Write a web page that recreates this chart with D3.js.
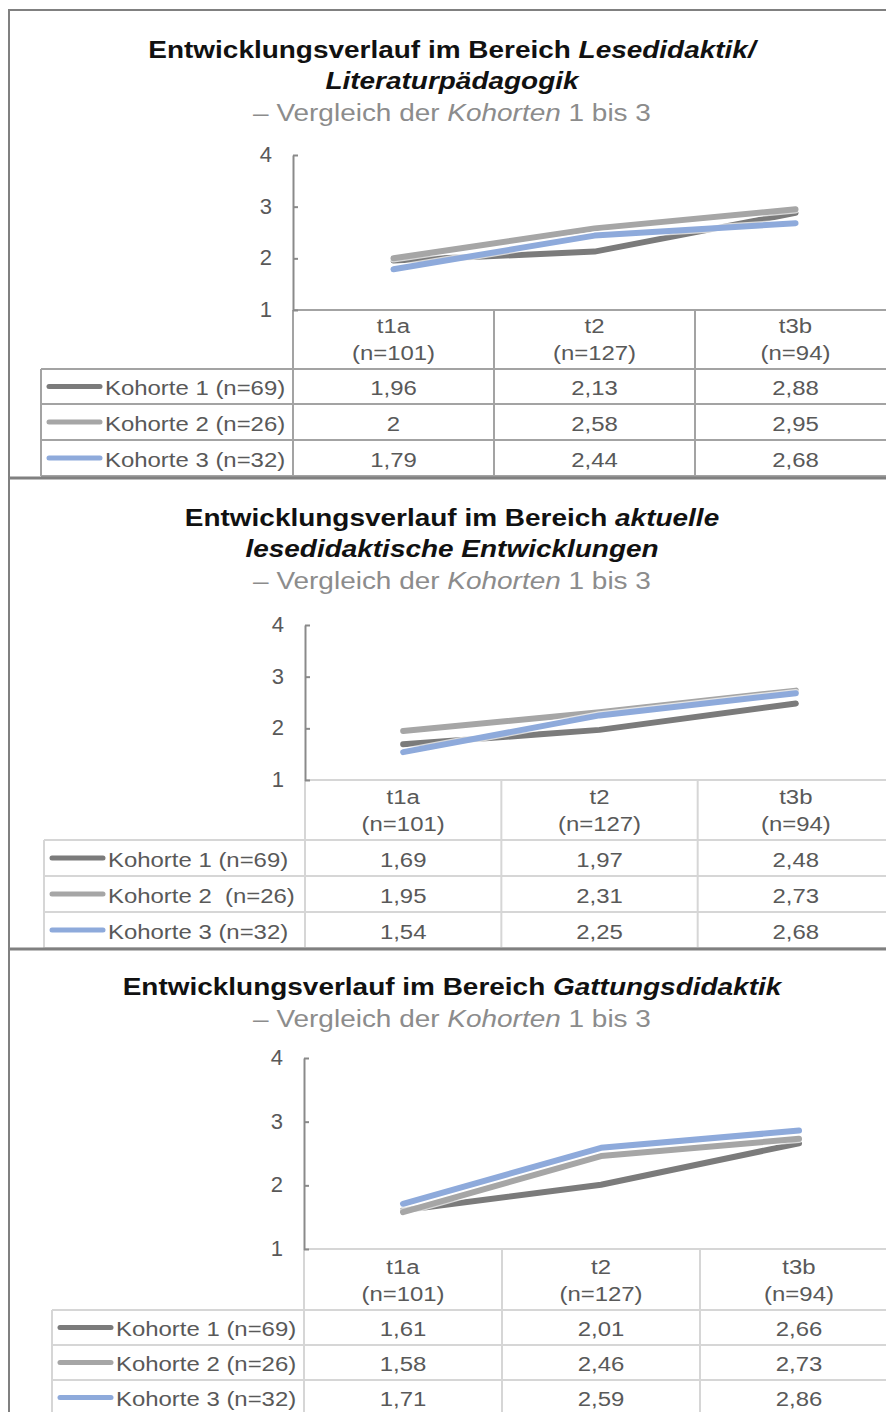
<!DOCTYPE html>
<html>
<head>
<meta charset="utf-8">
<script src="https://cdn.jsdelivr.net/npm/d3@7"></script>
<style>
  body { margin: 0; background: #fff; }
  svg { display: block; font-family: "Liberation Sans", Arial, sans-serif; }
</style>
</head>
<body>
<svg id="chart" width="886" height="1412"></svg>
<script>
// Measurement points and cohorts shared by all three panels
const periods = ["t1a", "t2", "t3b"];
const periodN = ["(n=101)", "(n=127)", "(n=94)"];
const cohortNames = ["Kohorte 1 (n=69)", "Kohorte 2 (n=26)", "Kohorte 3 (n=32)"];
const cohortNamesAktuell = ["Kohorte 1 (n=69)", "Kohorte 2  (n=26)", "Kohorte 3 (n=32)"];
const cohortColors = ["#7b7b7b", "#a6a6a6", "#8eaadb"];
const yTicks = [1, 2, 3, 4];

// Mean values per cohort (t1a, t2, t3b)
const leseK1 = [1.96, 2.13, 2.88];
const leseK2 = [2, 2.58, 2.95];
const leseK3 = [1.79, 2.44, 2.68];

const aktuellK1 = [1.69, 1.97, 2.48];
const aktuellK2 = [1.95, 2.31, 2.73];
const aktuellK3 = [1.54, 2.25, 2.68];

const gattungK1 = [1.61, 2.01, 2.66];
const gattungK2 = [1.58, 2.46, 2.73];
const gattungK3 = [1.71, 2.59, 2.86];

// Title pieces (i = italic)
const titleLese = [
  [{t: "Entwicklungsverlauf im Bereich "}, {t: "Lesedidaktik/", i: true}],
  [{t: "Literaturpädagogik", i: true}]
];
const titleAktuell = [
  [{t: "Entwicklungsverlauf im Bereich "}, {t: "aktuelle", i: true}],
  [{t: "lesedidaktische Entwicklungen", i: true}]
];
const titleGattung = [
  [{t: "Entwicklungsverlauf im Bereich "}, {t: "Gattungsdidaktik", i: true}]
];
const subtitle = [{t: "– Vergleich der "}, {t: "Kohorten", i: true}, {t: " 1 bis 3"}];

// Layout of each panel
const CX = 452;           // centre line of titles
const panels = [
  {
    title: titleLese, labels: cohortNames, series: [leseK1, leseK2, leseK3],
    titleY: [58, 89], subY: 121,
    axisX: 293, right: 896, y1: 310, y4: 155,
    tableLeft: 41, rows: [369, 404, 440, 476],
    grid: "#a3a3a3"
  },
  {
    title: titleAktuell, labels: cohortNamesAktuell, series: [aktuellK1, aktuellK2, aktuellK3],
    titleY: [526, 557], subY: 589,
    axisX: 305, right: 894, y1: 780, y4: 625,
    tableLeft: 44, rows: [840, 876, 912, 948],
    grid: "#d6d6d6"
  },
  {
    title: titleGattung, labels: cohortNames, series: [gattungK1, gattungK2, gattungK3],
    titleY: [995], subY: 1027,
    axisX: 304, right: 898, y1: 1249, y4: 1058,
    tableLeft: 52, rows: [1310, 1345, 1380, 1415],
    grid: "#d6d6d6"
  }
];

const svg = d3.select("#chart");
const fmt = v => String(v).replace(".", ",");

function stretchedText(g, x, y, parts, o) {
  const t = g.append("text")
    .attr("transform", `translate(${x},${y}) scale(${o.sx},1)`)
    .attr("text-anchor", o.anchor || "middle")
    .attr("font-size", o.size)
    .attr("font-weight", o.weight || "normal")
    .attr("fill", o.color)
    .style("white-space", "pre");
  parts.forEach(p => t.append("tspan")
    .attr("font-style", p.i ? "italic" : "normal")
    .text(p.t));
  return t;
}

const titleStyle = {size: 24, sx: 1.165, weight: "bold", color: "#111"};
const subStyle = {size: 24, sx: 1.165, color: "#8c8c8c"};
const cellStyle = {size: 21, sx: 1.14, color: "#595959"};

panels.forEach(p => {
  const g = svg.append("g");

  // titles
  p.title.forEach((line, k) => stretchedText(g, CX, p.titleY[k], line, titleStyle));
  stretchedText(g, CX, p.subY, subtitle, subStyle);

  const x = d3.scaleBand().domain(periods).range([p.axisX, p.right]);
  const y = d3.scaleLinear().domain([1, 4]).range([p.y1, p.y4]);
  const cx = d => x(d) + x.bandwidth() / 2;

  // table grid
  const tbl = g.append("g").attr("stroke", p.grid).attr("stroke-width", 2).attr("fill", "none");
  tbl.append("line").attr("x1", p.axisX).attr("x2", p.right).attr("y1", p.y1).attr("y2", p.y1);
  p.rows.forEach(r =>
    tbl.append("line").attr("x1", p.tableLeft).attr("x2", p.right).attr("y1", r).attr("y2", r));
  periods.forEach(d =>
    tbl.append("line").attr("x1", x(d) + x.bandwidth()).attr("x2", x(d) + x.bandwidth())
      .attr("y1", p.y1).attr("y2", p.rows[3]));
  tbl.append("line").attr("x1", p.axisX).attr("x2", p.axisX).attr("y1", p.y1).attr("y2", p.rows[3]);
  tbl.append("line").attr("x1", p.tableLeft).attr("x2", p.tableLeft).attr("y1", p.rows[0]).attr("y2", p.rows[3]);

  // y axis
  const ax = g.append("g").attr("transform", `translate(${p.axisX},0)`)
    .call(d3.axisLeft(y).tickValues(yTicks).tickFormat(d3.format("d"))
      .tickSizeInner(-5).tickSizeOuter(0).tickPadding(21));
  ax.select(".domain").attr("stroke", "#8a8a8a").attr("stroke-width", 2);
  ax.selectAll(".tick line").attr("stroke", "#8a8a8a").attr("stroke-width", 2);
  ax.selectAll(".tick text").attr("font-size", 22).attr("fill", "#595959")
    .attr("font-family", "Liberation Sans, Arial, sans-serif").attr("dy", "0.3em");

  // header cells
  periods.forEach((d, k) => {
    stretchedText(g, cx(d), p.rows[0] - 36, [{t: d}], cellStyle);
    stretchedText(g, cx(d), p.rows[0] - 9, [{t: periodN[k]}], cellStyle);
  });

  // lines
  const line = d3.line().x((v, k) => cx(periods[k])).y(v => y(v));
  p.series.forEach((s, i) => {
    g.append("path").attr("d", line(s)).attr("fill", "none")
      .attr("stroke", "#fff").attr("stroke-width", 8.5).attr("stroke-opacity", 0.7)
      .attr("stroke-linecap", "round").attr("stroke-linejoin", "round");
    g.append("path").attr("d", line(s)).attr("fill", "none")
      .attr("stroke", cohortColors[i]).attr("stroke-width", 6)
      .attr("stroke-linecap", "round").attr("stroke-linejoin", "round");
  });

  // data rows with legend keys
  p.series.forEach((s, i) => {
    const bottom = p.rows[i + 1];
    const mid = (p.rows[i] + bottom) / 2;
    g.append("line")
      .attr("x1", p.tableLeft + 8).attr("x2", p.tableLeft + 59)
      .attr("y1", mid).attr("y2", mid)
      .attr("stroke", cohortColors[i]).attr("stroke-width", 5).attr("stroke-linecap", "round");
    stretchedText(g, p.tableLeft + 64, bottom - 9, [{t: p.labels[i]}],
      Object.assign({}, cellStyle, {anchor: "start"}));
    s.forEach((v, k) =>
      stretchedText(g, cx(periods[k]), bottom - 9, [{t: fmt(v)}], cellStyle));
  });
});

// panel frame
const frame = svg.append("g").attr("stroke", "#808080").attr("fill", "none");
frame.append("line").attr("x1", 9).attr("x2", 886).attr("y1", 10).attr("y2", 10).attr("stroke-width", 2);
frame.append("line").attr("x1", 9).attr("x2", 9).attr("y1", 9).attr("y2", 1412).attr("stroke-width", 2);
[478, 949].forEach(yy =>
  frame.append("line").attr("x1", 9).attr("x2", 886).attr("y1", yy).attr("y2", yy).attr("stroke-width", 3));
</script>
</body>
</html>
